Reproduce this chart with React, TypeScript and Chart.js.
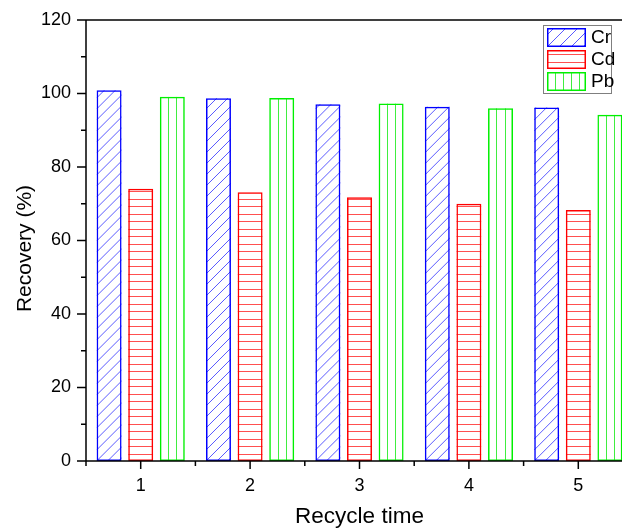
import React, { useEffect, useRef } from "react";
import { Chart, registerables } from "chart.js";

Chart.register(...registerables);

// ---- data ----
const categories = ["1", "2", "3", "4", "5"];
const crValues = [100.9, 98.7, 97.1, 96.4, 96.2];
const cdValues = [74.1, 73.1, 71.8, 70.0, 68.3];
const pbValues = [99.1, 98.8, 97.3, 96.0, 94.2];
const yTickValues = [0, 20, 40, 60, 80, 100, 120];
const yMinorTickValues = [10, 30, 50, 70, 90, 110];
const seriesNames = ["Cr", "Cd", "Pb"];
const xTitle = "Recycle time";
const yTitle = "Recovery (%)";

const FONT = "'Liberation Sans', Arial, sans-serif";
const borderColors = ["#0000ff", "#ff0000", "#00f000"];
const hatchColors = ["#5a5aff", "#ff5050", "#40ee40"];
const hatchKinds = ["diag", "horiz", "vert"];

function drawHatch(ctx: CanvasRenderingContext2D, kind: string, l: number, t: number, r: number, b: number, color: string, sp: number) {
  ctx.save();
  ctx.beginPath();
  ctx.rect(l, t, r - l, b - t);
  ctx.clip();
  ctx.strokeStyle = color;
  ctx.lineWidth = 1;
  ctx.beginPath();
  const w = r - l;
  const h = b - t;
  if (kind === "diag") {
    const L = w + h + 4;
    for (let k = -Math.ceil(w / sp) - 1; k * sp < h + 2; k++) {
      const off = k * sp;
      ctx.moveTo(l, b - off);
      ctx.lineTo(l + L, b - off - L);
    }
  } else if (kind === "horiz") {
    for (let k = 1; b - k * sp > t + 1; k++) {
      const y = Math.round(b - k * sp) + 0.5;
      ctx.moveTo(l, y);
      ctx.lineTo(r, y);
    }
  } else {
    for (let k = 1; l + k * sp < r - 1; k++) {
      const x = Math.round(l + k * sp) + 0.5;
      ctx.moveTo(x, t);
      ctx.lineTo(x, b);
    }
  }
  ctx.stroke();
  ctx.restore();
}

const hatchSpacing = [11, 7.5, 8.3];
const legendSpacing = [12, 7.5, 8];

const decorPlugin = {
  id: "decor",
  beforeDatasetsDraw(chart: any) {
    const ctx = chart.ctx;
    chart.data.datasets.forEach((_ds: any, i: number) => {
      const meta = chart.getDatasetMeta(i);
      meta.data.forEach((el: any) => {
        const p = el.getProps(["x", "y", "base", "width"], true);
        const l = p.x - p.width / 2;
        const r = p.x + p.width / 2;
        drawHatch(ctx, hatchKinds[i], l, p.y, r, p.base, hatchColors[i], hatchSpacing[i]);
      });
    });
  },
  afterDatasetsDraw(chart: any) {
    const ctx = chart.ctx;
    const { left, right, top, bottom } = chart.chartArea;
    const xs = chart.scales.x;
    const ys = chart.scales.y;
    ctx.save();
    ctx.strokeStyle = "#000";
    ctx.lineWidth = 1.5;
    ctx.beginPath();
    // frame
    ctx.moveTo(left, top);
    ctx.lineTo(right, top);
    ctx.moveTo(left, top - 0.75);
    ctx.lineTo(left, bottom + 0.75);
    ctx.moveTo(left, bottom);
    ctx.lineTo(right, bottom);
    ctx.moveTo(right, top);
    ctx.lineTo(right, bottom);
    // y ticks
    yTickValues.forEach((v) => {
      const y = ys.getPixelForValue(v);
      ctx.moveTo(left - 9, y);
      ctx.lineTo(left, y);
    });
    yMinorTickValues.forEach((v) => {
      const y = ys.getPixelForValue(v);
      ctx.moveTo(left - 5, y);
      ctx.lineTo(left, y);
    });
    // x ticks
    const step = xs.getPixelForValue(1) - xs.getPixelForValue(0);
    categories.forEach((_c, i) => {
      const x = xs.getPixelForValue(i);
      ctx.moveTo(x, bottom);
      ctx.lineTo(x, bottom + 8);
      const xm = x - step / 2;
      ctx.moveTo(xm, bottom);
      ctx.lineTo(xm, bottom + 5);
    });
    ctx.stroke();

    // y title
    ctx.save();
    ctx.translate(31, (top + bottom) / 2 + 8);
    ctx.rotate(-Math.PI / 2);
    ctx.fillStyle = "#000";
    ctx.font = `21px ${FONT}`;
    ctx.textAlign = "center";
    ctx.textBaseline = "alphabetic";
    ctx.fillText(yTitle, 0, 0);
    ctx.restore();

    // legend
    const bx = 543, by = 25, bw = 68, bh = 68;
    ctx.fillStyle = "#fff";
    ctx.fillRect(bx, by, bw, bh);
    ctx.strokeStyle = "#7f7f7f";
    ctx.lineWidth = 1;
    ctx.strokeRect(bx + 0.5, by + 0.5, bw, bh);
    const rowTops = [28, 50, 72];
    seriesNames.forEach((name, i) => {
      const sl = 547, sr = 586, st = rowTops[i], sb = rowTops[i] + 19;
      drawHatch(ctx, hatchKinds[i], sl, st, sr, sb, hatchColors[i], legendSpacing[i]);
      ctx.strokeStyle = borderColors[i];
      ctx.lineWidth = 1.5;
      ctx.strokeRect(sl + 0.75, st + 0.75, sr - sl - 1.5, sb - st - 1.5);
      ctx.fillStyle = "#000";
      ctx.font = `19px ${FONT}`;
      ctx.textAlign = "left";
      ctx.textBaseline = "middle";
      ctx.fillText(name, 591, (st + sb) / 2 + 0.5);
    });
    ctx.restore();
  },
};

export default function App() {
  const ref = useRef<HTMLCanvasElement | null>(null);
  useEffect(() => {
    if (!ref.current) return;
    const values = [crValues, cdValues, pbValues];
    const chart = new Chart(ref.current, {
      type: "bar",
      data: {
        labels: categories,
        datasets: seriesNames.map((name, i) => ({
          label: name,
          data: values[i],
          backgroundColor: "rgba(0,0,0,0)",
          borderColor: borderColors[i],
          borderWidth: 1.5,
          borderSkipped: false,
          categoryPercentage: 0.867,
          barPercentage: 0.79,
        })),
      },
      options: {
        responsive: false,
        animation: false,
        devicePixelRatio: 1,
        layout: { padding: { left: 0, top: 20, right: 27, bottom: 0 } },
        plugins: { legend: { display: false }, tooltip: { enabled: false } },
        scales: {
          x: {
            type: "category",
            offset: true,
            grid: { display: false, drawTicks: false },
            border: { display: false },
            ticks: { color: "#000", font: { family: FONT, size: 18 }, padding: 14, maxRotation: 0 },
            title: { display: true, text: xTitle, color: "#000", font: { family: FONT, size: 22.5 }, padding: { top: 0, bottom: -1 } },
            afterFit: (s: any) => { s.height = 68; s.paddingLeft = 0; s.paddingRight = 0; },
          },
          y: {
            min: 0,
            max: 120,
            grid: { display: false, drawTicks: false },
            border: { display: false },
            ticks: { stepSize: 20, color: "#000", font: { family: FONT, size: 18 }, padding: 15 },
            afterFit: (s: any) => { s.width = 86; s.paddingTop = 0; s.paddingBottom = 0; },
          },
        },
      },
      plugins: [decorPlugin],
    });
    return () => chart.destroy();
  }, []);
  return (
    <div style={{ position: "fixed", left: 0, top: 0, width: 622, height: 529, overflow: "hidden", background: "#fff" }}>
      <canvas ref={ref} width={660} height={529} style={{ display: "block" }} />
    </div>
  );
}
